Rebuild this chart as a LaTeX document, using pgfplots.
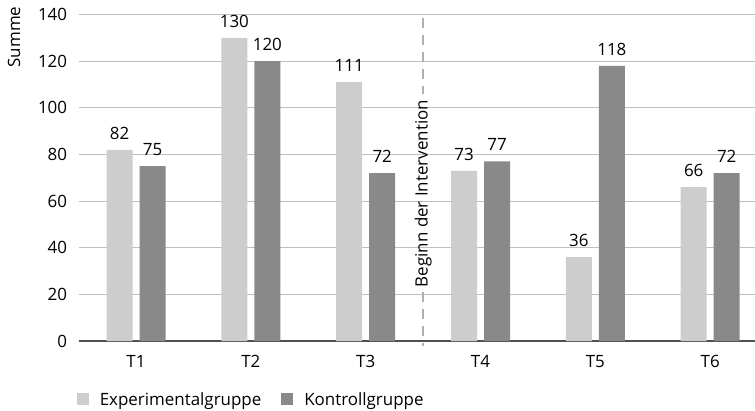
\documentclass[border=0pt]{standalone}
\usepackage{pgfplots}
\pgfplotsset{compat=1.18}
\usepackage{fontspec}
\setmainfont{Open Sans}
\definecolor{expc}{RGB}{204,205,204}
\definecolor{konc}{RGB}{137,137,137}
\definecolor{gridc}{RGB}{190,190,190}
\definecolor{axc}{RGB}{80,80,80}
\definecolor{dashc}{RGB}{175,175,175}
\newcommand{\fs}{\fontsize{17}{20}\selectfont}
\begin{document}
\begin{tikzpicture}
\useasboundingbox (-78.6bp,-70bp) rectangle (676.4bp,341bp);
\clip (-78.6bp,-70bp) rectangle (676.4bp,341bp);
\begin{axis}[
  at={(0,0)}, anchor=south west,
  scale only axis, width=689bp, height=326.5bp,
  ymin=0, ymax=140, ytick={0,20,...,140},
  xmin=-0.5, xmax=5.5, xtick={0,...,5}, xticklabels={T1,T2,T3,T4,T5,T6},
  ybar=7bp, bar width=26bp,
  axis x line*=bottom, axis y line*=left,
  y axis line style={draw=none},
  x axis line style={axc, line width=1.3bp},
  major tick length=0pt,
  ymajorgrids, grid style={gridc, line width=0.9bp},
  tick label style={font=\fs, text=black},
  yticklabel style={xshift=-8bp},
  xticklabel style={yshift=-11bp},
  /pgf/number format/assume math mode=true,
  nodes near coords,
  nodes near coords style={font=\fs, text=black, yshift=7bp},
  clip=false,
  legend style={draw=none, legend columns=2, at={(axis description cs:0,0)}, anchor=north west,
    xshift=-5bp, yshift=-47bp, font=\fs,
    /tikz/every odd column/.append style={column sep=9bp},
    /tikz/every even column/.append style={column sep=18bp}},
  legend cell align=left,
]
\addplot[draw=none, fill=expc, legend image code/.code={\fill[expc] (0bp,-6bp) rectangle (12bp,6bp);}]
  coordinates {(0,82) (1,130) (2,111) (3,73) (4,36) (5,66)};
\addlegendentry{Experimentalgruppe}
\addplot[draw=none, fill=konc, legend image code/.code={\fill[konc] (0bp,-6bp) rectangle (12bp,6bp);}]
  coordinates {(0,75) (1,120) (2,72) (3,77) (4,118) (5,72)};
\addlegendentry{Kontrollgruppe}
\draw[dashc, line width=1.6bp, dash pattern=on 10bp off 7bp] (axis cs:2.5,138.5) -- (axis cs:2.5,106);
\draw[dashc, line width=1.6bp, dash pattern=on 10bp off 7bp] (axis cs:2.5,21) -- (axis cs:2.5,-2);
\node[rotate=90, font=\fs, inner sep=0pt] at (axis cs:2.5,63.2) {Beginn der Intervention};
\end{axis}
\node[rotate=90, font=\fs] at (-64.6bp,304bp) {Summe};
\end{tikzpicture}
\end{document}
